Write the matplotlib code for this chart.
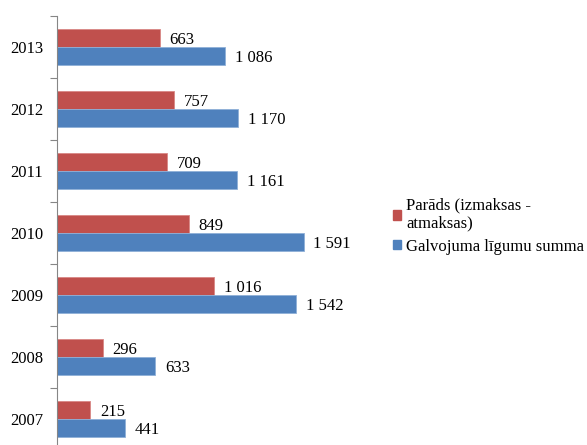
import matplotlib
matplotlib.use("Agg")
import matplotlib.pyplot as plt
from matplotlib.patches import Patch

years = ["2007", "2008", "2009", "2010", "2011", "2012", "2013"]
debt = [215, 296, 1016, 849, 709, 757, 663]
guarantee = [441, 633, 1542, 1591, 1161, 1170, 1086]
legend_labels = ["Parāds (izmaksas -\natmaksas)", "Galvojuma līgumu summa"]

RED = "#C0504D"
BLUE = "#4F81BD"

plt.rcParams["font.family"] = ["Liberation Serif", "DejaVu Serif"]

fig = plt.figure(figsize=(5.87, 4.45), dpi=100)
ax = fig.add_axes([57 / 587, -5 / 445, 279 / 587, 434 / 445])

h = 0.29
ypos = list(range(len(years)))
ax.barh([y + h / 2 for y in ypos], debt, height=h, color=RED, edgecolor="#D98785", linewidth=0.6)
ax.barh([y - h / 2 for y in ypos], guarantee, height=h, color=BLUE, edgecolor="#8FB0D8", linewidth=0.6)

def fmt(v):
    return f"{v:,}".replace(",", " ")

for y, v in zip(ypos, debt):
    ax.annotate(fmt(v), (v, y + h / 2), xytext=(7, -1.5), textcoords="offset points",
                ha="left", va="center", fontsize=12)
for y, v in zip(ypos, guarantee):
    ax.annotate(fmt(v), (v, y - h / 2), xytext=(7, -1.5), textcoords="offset points",
                ha="left", va="center", fontsize=12)

ax.set_xlim(0, 1800)
ax.set_ylim(-0.5, len(years) - 0.5)
ax.set_yticks(ypos)
ax.set_yticklabels(years, fontsize=12)
ax.set_yticks([y - 0.5 for y in range(len(years) + 1)], minor=True)
ax.tick_params(axis="y", which="major", length=0, pad=10)
ax.tick_params(axis="y", which="minor", length=5, color="#868686", width=0.8, direction="out")
ax.set_xticks([])
for s in ["top", "right", "bottom"]:
    ax.spines[s].set_visible(False)
ax.spines["left"].set_color("#868686")
ax.spines["left"].set_linewidth(0.8)

handles = [Patch(facecolor=RED, edgecolor=RED), Patch(facecolor=BLUE, edgecolor=BLUE)]
fig.legend(handles, legend_labels, loc="center left", bbox_to_anchor=(381 / 587, 1 - 226 / 445),
           frameon=False, fontsize=12, handlelength=0.5, handleheight=0.5,
           handletextpad=0.3, labelspacing=0.4, borderpad=0.2)

fig.savefig("out.png", dpi=100)
